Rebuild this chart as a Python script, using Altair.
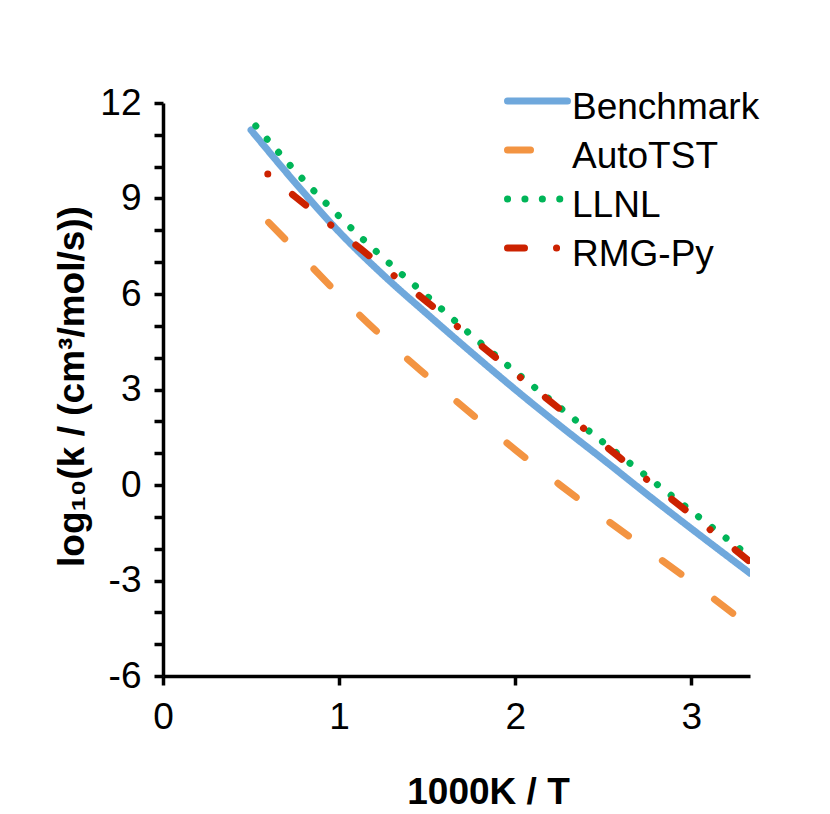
import altair as alt
import pandas as pd

series_order = ["Benchmark", "AutoTST", "LLNL", "RMG-Py"]
series_colors = ["#6FA8DC", "#F39442", "#00B558", "#CC2200"]
series_dashes = [[1, 0], [23, 42], [0.1, 17.3], [17, 32, 0.1, 32]]

benchmark_x = [0.5, 0.75, 1.0, 1.25, 1.5, 1.75, 2.0, 2.25, 2.5, 2.75, 3.0, 3.333]
benchmark_y = [11.15, 9.5, 7.95, 6.6, 5.37, 4.17, 3.0, 1.88, 0.8, -0.3, -1.37, -2.77]

autotst_x = [0.6, 0.75, 1.0, 1.25, 1.5, 1.75, 2.0, 2.25, 2.5, 2.75, 3.0, 3.333]
autotst_y = [8.25, 7.40, 5.97, 4.64, 3.42, 2.24, 1.11, 0.02, -1.02, -2.03, -3.04, -4.45]

llnl_x = [0.527, 0.75, 1.0, 1.25, 1.5, 1.75, 2.0, 2.25, 2.5, 2.75, 3.0, 3.333]
llnl_y = [11.28, 9.87, 8.44, 7.14, 5.93, 4.71, 3.56, 2.45, 1.34, 0.26, -0.82, -2.25]

rmg_x = [0.595, 0.75, 1.0, 1.25, 1.5, 1.75, 2.0, 2.25, 2.5, 2.75, 3.0, 3.333]
rmg_y = [9.77, 9.06, 7.96, 6.85, 5.75, 4.63, 3.51, 2.40, 1.28, 0.16, -0.93, -2.41]

y_ticks = list(range(-6, 13))
x_ticks = [0, 1, 2, 3]

rows = []
for name, xs, ys in [
    ("Benchmark", benchmark_x, benchmark_y),
    ("AutoTST", autotst_x, autotst_y),
    ("LLNL", llnl_x, llnl_y),
    ("RMG-Py", rmg_x, rmg_y),
]:
    for i, (xv, yv) in enumerate(zip(xs, ys)):
        rows.append({"series": name, "x": xv, "y": yv, "i": i})
df = pd.DataFrame(rows)

FONT = "Liberation Sans"
FS = 37
LW = 7

legend_cfg = dict(
    title=None,
    orient="none",
    legendX=341,
    legendY=-26,
    symbolType="stroke",
    symbolSize=3600,
    symbolStrokeWidth=LW,
    labelFontSize=FS,
    labelFont=FONT,
    labelColor="black",
    labelOffset=1,
    labelLimit=0,
    rowPadding=0,
    clipHeight=48,
    padding=0,
)

chart = alt.Chart(df).mark_line(
    strokeWidth=LW, strokeCap="round", strokeJoin="round", interpolate="monotone", clip=True
).encode(
    x=alt.X(
        "x:Q",
        scale=alt.Scale(domain=[0, 3.3333], nice=False, zero=False),
        axis=alt.Axis(
            values=x_ticks,
            labelExpr="toString(datum.value)",
            labelFlush=False,
            title="1000K / T",
            titleFont=FONT,
            titleFontSize=FS,
            titleFontWeight="bold",
            titleColor="black",
            titleX=325,
            titleY=127,
            titleAlign="center",
            titleBaseline="alphabetic",
            titleAnchor="start",
            labelFont=FONT,
            labelFontSize=FS,
            labelColor="black",
            labelPadding=14,
            tickSize=9,
            tickWidth=3.5,
            tickColor="black",
            domainColor="black",
            domainWidth=3.5,
            grid=False,
        ),
    ),
    y=alt.Y(
        "y:Q",
        scale=alt.Scale(domain=[-6, 12], nice=False, zero=False),
        axis=alt.Axis(
            values=y_ticks,
            labelExpr="datum.value % 3 == 0 ? toString(datum.value) : ''",
            labelFlush=False,
            title="log₁₀(k / (cm³/mol/s))",
            titleFont=FONT,
            titleFontSize=FS,
            titleFontWeight="bold",
            titleColor="black",
            titleAngle=-90,
            titleX=-80,
            titleY=283,
            titleAlign="center",
            titleBaseline="alphabetic",
            titleAnchor="start",
            labelFont=FONT,
            labelFontSize=FS,
            labelColor="black",
            labelPadding=13,
            tickSize=9,
            tickWidth=3.5,
            tickColor="black",
            domainColor="black",
            domainWidth=3.5,
            grid=False,
        ),
    ),
    color=alt.Color(
        "series:N",
        scale=alt.Scale(domain=series_order, range=series_colors),
        legend=alt.Legend(**legend_cfg),
    ),
    strokeDash=alt.StrokeDash(
        "series:N",
        scale=alt.Scale(domain=series_order, range=series_dashes),
        legend=alt.Legend(**legend_cfg),
    ),
    order="i:Q",
).properties(
    width=587,
    height=573,
    autosize=alt.AutoSizeParams(type="none"),
    padding={"left": 155, "top": 95, "right": 60, "bottom": 136},
).configure_view(
    stroke=None
)

spec_patch = [
    {
        "op": "add",
        "path": "/legends/0/encode",
        "value": {
            "symbols": {
                "update": {
                    "strokeCap": {"value": "round"},
                    "fill": {"value": "transparent"},
                }
            },
            "labels": {"update": {"dy": {"value": 7}}},
        },
    },
    {
        "op": "add",
        "path": "/marks/0/marks/0/encode/update/strokeDashOffset",
        "value": {"signal": "datum.series === 'RMG-Py' ? 49.1 : 0"},
    },
]

chart.save(
    "out.html",
    embed_options={"renderer": "svg", "actions": False, "patch": spec_patch},
)
